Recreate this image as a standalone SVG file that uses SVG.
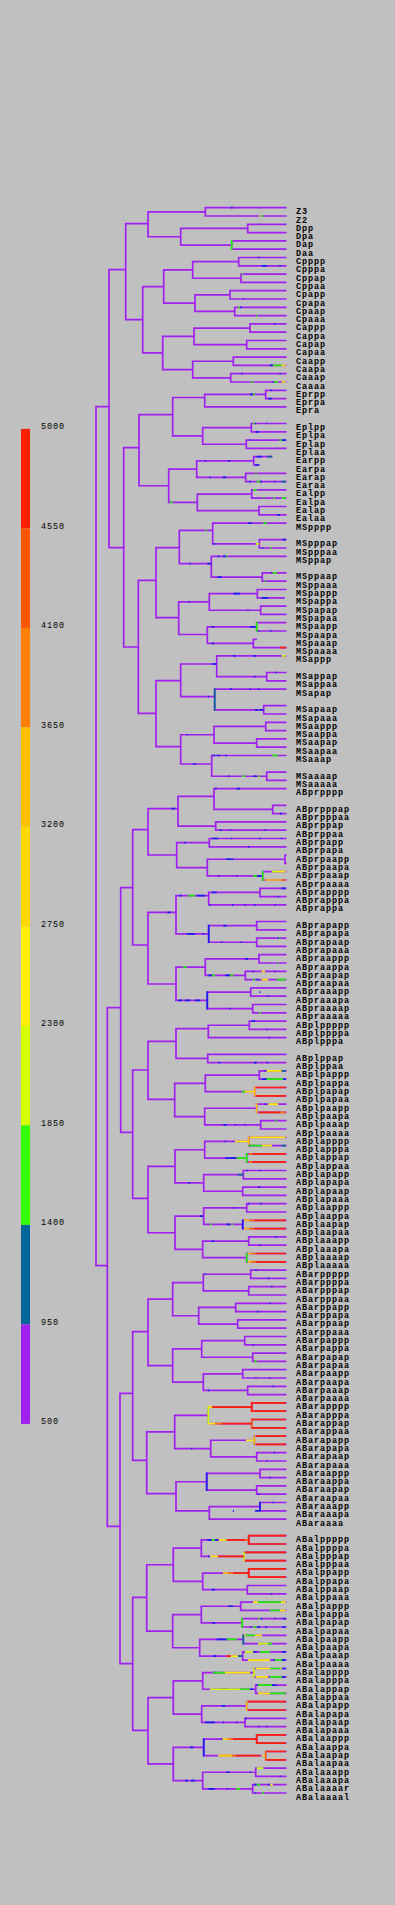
<svg xmlns="http://www.w3.org/2000/svg" width="395" height="1905" viewBox="0 0 395 1905">
<style>
.t{fill:none;stroke:#a020f0;stroke-width:1.7;stroke-linecap:square}
.ov{fill:none;stroke-width:1.7;stroke-linecap:butt}
.r{stroke:#ff2000}.o{stroke:#ff7000}.am{stroke:#ffc000}.y{stroke:#ffee00}.yg{stroke:#ccff00}.g{stroke:#22ee00}.b{stroke:#1c1cf0}.tl{stroke:#006699}
.l{font-family:"Liberation Mono",monospace;font-size:8.5px;font-weight:bold;letter-spacing:0.9px;fill:#000}
.k{font-family:"Liberation Mono",monospace;font-size:8.5px;letter-spacing:0.9px;fill:#000}
</style>
<rect width="395" height="1905" fill="#c0c0c0"/>
<g id="legend">
<rect x="21" y="428.9" width="9" height="99.5" fill="#ff2000"/>
<rect x="21" y="528.4" width="9" height="99.5" fill="#ff5500"/>
<rect x="21" y="627.9" width="9" height="99.5" fill="#ff8000"/>
<rect x="21" y="727.4" width="9" height="99.5" fill="#ffc000"/>
<rect x="21" y="826.9" width="9" height="99.5" fill="#ffd800"/>
<rect x="21" y="926.4" width="9" height="99.5" fill="#ffee00"/>
<rect x="21" y="1025.9" width="9" height="99.5" fill="#d4ff00"/>
<rect x="21" y="1125.4" width="9" height="99.5" fill="#33ff00"/>
<rect x="21" y="1224.9" width="9" height="99.5" fill="#006699"/>
<rect x="21" y="1324.4" width="9" height="99.5" fill="#a020f0"/>
<text class="k" x="41" y="429">5000</text>
<text class="k" x="41" y="528.5">4550</text>
<text class="k" x="41" y="628">4100</text>
<text class="k" x="41" y="727.5">3650</text>
<text class="k" x="41" y="827">3200</text>
<text class="k" x="41" y="926.5">2750</text>
<text class="k" x="41" y="1026">2300</text>
<text class="k" x="41" y="1125.5">1850</text>
<text class="k" x="41" y="1225">1400</text>
<text class="k" x="41" y="1324.5">950</text>
<text class="k" x="41" y="1424">500</text>
</g>
<g id="connectors">
<path id="e-top" class="t" d="M96 406.7V1265.7M96 406.7H109M96 1265.7H107.3
M109 269.7V547.7M109 269.7H125.7M109 547.7H123.7
M125.7 223.7V319.7M125.7 223.7H148M125.7 319.7H142.7
M148 211.85V236.75M148 211.85H205.3M148 236.75H180.7
M205.3 207.7V216M205.3 207.7H285.7M205.3 216H285.7
M180.7 228.45V245.05M180.7 228.45H247.7M180.7 245.05H231.7
M247.7 224.3V232.6M247.7 224.3H285.7M247.7 232.6H285.7
M231.7 240.9V249.2M231.7 240.9H285.7M231.7 249.2H285.7
M142.7 286.55V352.95M142.7 286.55H163.7M142.7 352.95H162.7
M163.7 269.95V303.15M163.7 269.95H192.7M163.7 303.15H195
M192.7 261.65V278.25M192.7 261.65H238.7M192.7 278.25H241
M238.7 257.5V265.8M238.7 257.5H285.7M238.7 265.8H285.7
M241 274.1V282.4M241 274.1H285.7M241 282.4H285.7
M195 294.85V311.45M195 294.85H230M195 311.45H234.7
M230 290.7V299M230 290.7H285.7M230 299H285.7
M234.7 307.3V315.6M234.7 307.3H285.7M234.7 315.6H285.7
M162.7 336.35V369.55M162.7 336.35H194M162.7 369.55H192.7
M194 328.05V344.65M194 328.05H250M194 344.65H246.7
M250 323.9V332.2M250 323.9H285.7M250 332.2H285.7
M246.7 340.5V348.8M246.7 340.5H285.7M246.7 348.8H285.7
M192.7 361.25V377.85M192.7 361.25H233.3M192.7 377.85H230.7
M233.3 357.1V365.4M233.3 357.1H285.7M233.3 365.4H285.7
M230.7 373.7V382M230.7 373.7H285.7M230.7 382H285.7"/>
<path id="e-E" class="t" d="M123.7 447.7V647M123.7 447.7H139M123.7 647H138.3
M139 414.7V485.75M139 414.7H172.7M139 485.75H168.7
M172.7 397.5V435.95M172.7 397.5H204.7M172.7 435.95H202.7
M204.7 394.45V406.9M204.7 394.45H265.7M204.7 406.9H285.7
M265.7 390.3V398.6M265.7 390.3H285.7M265.7 398.6H285.7
M202.7 427.65V444.25M202.7 427.65H251.3M202.7 444.25H246.3
M251.3 423.5V431.8M251.3 423.5H285.7M251.3 431.8H285.7
M246.3 440.1V448.4M246.3 440.1H285.7M246.3 448.4H285.7
M168.7 469.15V502.35M168.7 469.15H196.7M168.7 502.35H197.3
M196.7 460.85V477.45M196.7 460.85H253.7M196.7 477.45H245.7
M253.7 456.7V465M253.7 456.7H271.7M253.7 465H259
M245.7 473.3V481.6M245.7 473.3H285.7M245.7 481.6H285.7
M197.3 494.05V510.65M197.3 494.05H251.7M197.3 510.65H259
M251.7 489.9V498.2M251.7 489.9H285.7M251.7 498.2H285.7
M259 506.5V514.8M259 506.5H285.7M259 514.8H285.7"/>
<path id="e-MS" class="t" d="M138.3 580.3V713.3M138.3 580.3H156M138.3 713.3H156
M156 547.7V617.7M156 547.7H179.3M156 617.7H178.7
M179.3 530.3V563.7M179.3 530.3H212.7M179.3 563.7H211.3
M212.7 523.1V543.85M212.7 523.1H285.7M212.7 543.85H259.3
M259.3 539.7V548M259.3 539.7H285.7M259.3 548H285.7
M211.3 556.3V577.05M211.3 556.3H285.7M211.3 577.05H262.3
M262.3 572.9V581.2M262.3 572.9H285.7M262.3 581.2H285.7
M178.7 601.95V634.5M178.7 601.95H209.3M178.7 634.5H207.3
M209.3 593.65V610.25M209.3 593.65H257.3M209.3 610.25H260.7
M257.3 589.5V597.8M257.3 589.5H285.7M257.3 597.8H284
M260.7 606.1V614.4M260.7 606.1H285.7M260.7 614.4H285.7
M207.3 626.85V643.45M207.3 626.85H256.7M207.3 643.45H253.3
M256.7 622.7V631M256.7 622.7H285.7M256.7 631H285.7
M253.3 639.3V647.6M253.3 639.3H256M253.3 647.6H285.7
M156 680.7V746.7M156 680.7H180.7M156 746.7H180.7
M180.7 664V696.7M180.7 664H216.7M180.7 696.7H214.7
M216.7 655.9V676.65M216.7 655.9H285.7M216.7 676.65H266.7
M266.7 672.5V680.8M266.7 672.5H285.7M266.7 680.8H285.7
M214.7 689.1V709.85M214.7 689.1H285.7M214.7 709.85H263.7
M263.7 705.7V714M263.7 705.7H285.7M263.7 714H285.7
M180.7 734.75V764M180.7 734.75H214M180.7 764H211.7
M214 726.45V743.05M214 726.45H265.7M214 743.05H256.7
M265.7 722.3V730.6M265.7 722.3H285.7M265.7 730.6H285.7
M256.7 738.9V747.2M256.7 738.9H285.7M256.7 747.2H285.7
M211.7 755.5V776.25M211.7 755.5H285.7M211.7 776.25H266.7
M266.7 772.1V780.4M266.7 772.1H285.7M266.7 780.4H285.7"/>
<path id="e-ABp" class="t" d="M107.3 1007.7V1526.3M107.3 1007.7H120.7M107.3 1526.3H120
M120.7 887.7V1132.3M120.7 887.7H132.7M120.7 1132.3H132.7
M132.7 829.7V945M132.7 829.7H148M132.7 945H148
M148 808.7V855M148 808.7H178M148 855H176.7
M178 796.3V826.05M178 796.3H214M178 826.05H215.7
M214 788.7V809.45M214 788.7H285.7M214 809.45H272.7
M272.7 805.3V813.6M272.7 805.3H285.7M272.7 813.6H285.7
M215.7 821.9V830.2M215.7 821.9H285.7M215.7 830.2H285.7
M176.7 842.65V867.55M176.7 842.65H209.3M176.7 867.55H207.3
M209.3 838.5V846.8M209.3 838.5H285.7M209.3 846.8H285.7
M207.3 859.25V875.85M207.3 859.25H285M207.3 875.85H262.7
M285 855.1V863.4M285 855.1H285.7M285 863.4H285.7
M262.7 871.7V880M262.7 871.7H285.7M262.7 880H285.7
M148 912.3V984M148 912.3H176M148 984H176
M176 895.7V933.95M176 895.7H208.7M176 933.95H208.7
M208.7 892.45V904.9M208.7 892.45H260M208.7 904.9H285.7
M260 888.3V896.6M260 888.3H285.7M260 896.6H285.7
M208.7 925.65V942.25M208.7 925.65H256.7M208.7 942.25H256.7
M256.7 921.5V929.8M256.7 921.5H285.7M256.7 929.8H285.7
M256.7 938.1V946.4M256.7 938.1H285.7M256.7 946.4H285.7
M176 967.15V1000.35M176 967.15H205.3M176 1000.35H207.3
M205.3 958.85V975.45M205.3 958.85H259M205.3 975.45H245.3
M259 954.7V963M259 954.7H285.7M259 963H285.7
M245.3 971.3V979.6M245.3 971.3H285.7M245.3 979.6H285.7
M207.3 992.05V1008.65M207.3 992.05H250.7M207.3 1008.65H252.7
M250.7 987.9V996.2M250.7 987.9H285.7M250.7 996.2H285.7
M252.7 1004.5V1012.8M252.7 1004.5H285.7M252.7 1012.8H285.7
M132.7 1070V1198.3M132.7 1070H148M132.7 1198.3H148
M148 1041.3V1099.3M148 1041.3H176M148 1099.3H174.7
M176 1028.7V1058.45M176 1028.7H208.3M176 1058.45H207.7
M208.3 1025.25V1037.7M208.3 1025.25H249.3M208.3 1037.7H285.7
M249.3 1021.1V1029.4M249.3 1021.1H285.7M249.3 1029.4H285.7
M207.7 1054.3V1062.6M207.7 1054.3H285.7M207.7 1062.6H285.7
M174.7 1083.35V1116.55M174.7 1083.35H205.3M174.7 1116.55H204.7
M205.3 1075.05V1091.65M205.3 1075.05H259.3M205.3 1091.65H254.7
M259.3 1070.9V1079.2M259.3 1070.9H285.7M259.3 1079.2H285.7
M254.7 1087.5V1095.8M254.7 1087.5H285.7M254.7 1095.8H285.7
M204.7 1108.25V1124.85M204.7 1108.25H256.7M204.7 1124.85H260.7
M256.7 1104.1V1112.4M256.7 1104.1H285.7M256.7 1112.4H285.7
M260.7 1120.7V1129M260.7 1120.7H285.7M260.7 1129H285.7
M148 1166.35V1232.75M148 1166.35H175M148 1232.75H175
M175 1149.75V1182.95M175 1149.75H204.7M175 1182.95H203.7
M204.7 1141.45V1158.05M204.7 1141.45H248.7M204.7 1158.05H246.7
M248.7 1137.3V1145.6M248.7 1137.3H285.7M248.7 1145.6H285.7
M246.7 1153.9V1162.2M246.7 1153.9H285.7M246.7 1162.2H285.7
M203.7 1174.65V1191.25M203.7 1174.65H243.3M203.7 1191.25H242.7
M243.3 1170.5V1178.8M243.3 1170.5H285.7M243.3 1178.8H285.7
M242.7 1187.1V1195.4M242.7 1187.1H285.7M242.7 1195.4H285.7
M175 1216.15V1249.35M175 1216.15H203.7M175 1249.35H202.7
M203.7 1207.85V1224.45M203.7 1207.85H246.7M203.7 1224.45H242.7
M246.7 1203.7V1212M246.7 1203.7H285.7M246.7 1212H285.7
M242.7 1220.3V1228.6M242.7 1220.3H285.7M242.7 1228.6H285.7
M202.7 1241.05V1257.65M202.7 1241.05H248.7M202.7 1257.65H246.7
M248.7 1236.9V1245.2M248.7 1236.9H285.7M248.7 1245.2H285.7
M246.7 1253.5V1261.8M246.7 1253.5H285.7M246.7 1261.8H285.7"/>
<path id="e-ABa" class="t" d="M120 1393.3V1663.7M120 1393.3H132.7M120 1663.7H132.7
M132.7 1331.7V1460.3M132.7 1331.7H148M132.7 1460.3H146.7
M148 1299.15V1365.55M148 1299.15H172.7M148 1365.55H172.7
M172.7 1282.55V1315.75M172.7 1282.55H203.3M172.7 1315.75H198.7
M203.3 1274.25V1290.85M203.3 1274.25H250.7M203.3 1290.85H248.7
M250.7 1270.1V1278.4M250.7 1270.1H285.7M250.7 1278.4H285.7
M248.7 1286.7V1295M248.7 1286.7H285.7M248.7 1295H285.7
M198.7 1307.45V1324.05M198.7 1307.45H235.7M198.7 1324.05H237.7
M235.7 1303.3V1311.6M235.7 1303.3H285.7M235.7 1311.6H285.7
M237.7 1319.9V1328.2M237.7 1319.9H285.7M237.7 1328.2H285.7
M172.7 1348.95V1382.15M172.7 1348.95H201.7M172.7 1382.15H203.3
M201.7 1340.65V1357.25M201.7 1340.65H244.7M201.7 1357.25H252.7
M244.7 1336.5V1344.8M244.7 1336.5H285.7M244.7 1344.8H285.7
M252.7 1353.1V1361.4M252.7 1353.1H285.7M252.7 1361.4H285.7
M203.3 1373.85V1390.45M203.3 1373.85H242.7M203.3 1390.45H247.7
M242.7 1369.7V1378M242.7 1369.7H285.7M242.7 1378H285.7
M247.7 1386.3V1394.6M247.7 1386.3H285.7M247.7 1394.6H285.7
M146.7 1431.95V1493.7M146.7 1431.95H174.7M146.7 1493.7H176
M174.7 1415.35V1448.55M174.7 1415.35H208.3M174.7 1448.55H210.7
M208.3 1407.05V1423.65M208.3 1407.05H251.7M208.3 1423.65H251.7
M251.7 1402.9V1411.2M251.7 1402.9H285.7M251.7 1411.2H285.7
M251.7 1419.5V1427.8M251.7 1419.5H285.7M251.7 1427.8H285.7
M210.7 1440.25V1456.85M210.7 1440.25H254.3M210.7 1456.85H256.7
M254.3 1436.1V1444.4M254.3 1436.1H285.7M254.3 1444.4H285.7
M256.7 1452.7V1461M256.7 1452.7H285.7M256.7 1461H285.7
M176 1481.75V1510.8M176 1481.75H206.7M176 1510.8H209.3
M206.7 1473.45V1490.05M206.7 1473.45H260M206.7 1490.05H256.7
M260 1469.3V1477.6M260 1469.3H285.7M260 1477.6H285.7
M256.7 1485.9V1494.2M256.7 1485.9H285.7M256.7 1494.2H285.7
M209.3 1506.65V1519.1M209.3 1506.65H260M209.3 1519.1H285.7
M260 1502.5V1510.8M260 1502.5H285.7M260 1510.8H285.7
M132.7 1597.3V1730.3M132.7 1597.3H146.7M132.7 1730.3H148
M146.7 1564.75V1631.15M146.7 1564.75H173.3M146.7 1631.15H172.7
M173.3 1548.15V1581.35M173.3 1548.15H201.3M173.3 1581.35H202.7
M201.3 1539.85V1556.45M201.3 1539.85H248.7M201.3 1556.45H244
M248.7 1535.7V1544M248.7 1535.7H285.7M248.7 1544H285.7
M244 1552.3V1560.6M244 1552.3H285.7M244 1560.6H285.7
M202.7 1573.05V1589.65M202.7 1573.05H248.7M202.7 1589.65H247.3
M248.7 1568.9V1577.2M248.7 1568.9H285.7M248.7 1577.2H285.7
M247.3 1585.5V1593.8M247.3 1585.5H285.7M247.3 1593.8H285.7
M172.7 1614.55V1647.75M172.7 1614.55H201.3M172.7 1647.75H199.7
M201.3 1606.25V1622.85M201.3 1606.25H240.7M201.3 1622.85H242
M240.7 1602.1V1610.4M240.7 1602.1H285.7M240.7 1610.4H285.7
M242 1618.7V1627M242 1618.7H285.7M242 1627H285.7
M199.7 1639.45V1656.05M199.7 1639.45H243.3M199.7 1656.05H242.7
M243.3 1635.3V1643.6M243.3 1635.3H285.7M243.3 1643.6H285.7
M242.7 1651.9V1660.2M242.7 1651.9H285.7M242.7 1660.2H285.7
M148 1697.55V1763.95M148 1697.55H173.3M148 1763.95H173.3
M173.3 1680.95V1714.15M173.3 1680.95H202.7M173.3 1714.15H201.7
M202.7 1672.65V1689.25M202.7 1672.65H254M202.7 1689.25H255.7
M254 1668.5V1676.8M254 1668.5H285.7M254 1676.8H285.7
M255.7 1685.1V1693.4M255.7 1685.1H285.7M255.7 1693.4H285.7
M201.7 1705.85V1722.45M201.7 1705.85H246.7M201.7 1722.45H245
M246.7 1701.7V1710M246.7 1701.7H285.7M246.7 1710H285.7
M245 1718.3V1726.6M245 1718.3H285.7M245 1726.6H285.7
M173.3 1747.35V1780.55M173.3 1747.35H203.7M173.3 1780.55H202.7
M203.7 1739.05V1755.65M203.7 1739.05H256.7M203.7 1755.65H265.7
M256.7 1734.9V1743.2M256.7 1734.9H285.7M256.7 1743.2H285.7
M265.7 1751.5V1759.8M265.7 1751.5H285.7M265.7 1759.8H285.7
M202.7 1772.25V1788.85M202.7 1772.25H255.7M202.7 1788.85H252.7
M255.7 1768.1V1776.4M255.7 1768.1H285.7M255.7 1776.4H285.7
M252.7 1784.7V1793M252.7 1784.7H285.7M252.7 1793H285.7"/>
<g id="expression">
<path class="ov b" d="M231 207.7H232.7M258 257.5H259.5M261.7 265.8H266.7M279.3 265.8H280.7M242.8 299H244M240 307.3H241.7M274.3 323.9H275.7M270 365.4H272.7M241.2 373.7H242.4M279.5 373.7H280.7M272.7 382H274M250 394.45H253M270.5 390.3H271.7M268.3 398.6H271.7M255 423.5H256M266.2 423.5H267.2M255.7 431.8H259M249.5 440.1H250.5M281.7 440.1H285.7M204.7 460.85H206M228.3 460.85H230M256.7 456.7H261.7M255 465H259M209.7 477.45H211M222.7 477.45H226M249 481.6H250.5M260 481.6H262M274.5 481.6H275.7M277.3 514.8H280M248.3 523.1H251.7M213.7 543.85H215M282.7 539.7H285.7M261.7 548H263.3M189.5 563.7H190.7M207.3 563.7H211.3M217.7 556.3H219.3M223 556.3H226M217.3 577.05H221.7M271.2 572.9H272.4M188.8 601.95H190M233.3 593.65H240M261.7 597.8H268.3M247.3 610.25H248.5M211.7 626.85H214M250 626.85H256.7M258 631H259.3M270 631H271.3M211.7 643.45H214M233.3 655.9H235.7M253.3 655.9H255.7M211.7 664H216.7M254.5 676.65H255.7M275.5 672.5H277M230 689.1H231.7M249.5 689.1H250.7M258 689.1H259.3M207.7 696.7H209M255 709.85H258M259.5 709.85H263.3M186.7 734.75H188M193.3 764H196M212.7 755.5H215M217 755.5H220M225 755.5H226.7M228.3 776.25H230M253.3 776.25H256.7M215 788.7H216.7M236.7 788.7H240M171.7 808.7H175M280 813.6H281.7M220 830.2H221.7M229.5 830.2H230.7M264.5 830.2H265.7M184.3 842.65H186M211.7 838.5H218.3M231 838.5H232.3M259.5 838.5H260.7M281 838.5H282.3M248 846.8H249.2M226 859.25H233.3M218 875.85H219.2M236.2 875.85H237.4M256.7 875.85H262.7M167.3 912.3H170.7M179.3 895.7H181.7M196.7 895.7H205M281.7 888.3H285.7M211.7 892.45H216.7M277.7 896.6H279M209.7 904.9H211M232 904.9H233.3M244.5 904.9H245.7M254.5 904.9H255.7M274.5 904.9H275.7M186.7 933.95H195M202.7 933.95H204M223.3 925.65H226.7M221.3 942.25H222.5M240.5 942.25H241.7M278 938.1H279.2M245 958.85H248.3M208.3 975.45H212M225 975.45H230M252.7 971.3H254M274.5 971.3H275.7M256.7 979.6H258.3M178.3 1000.35H182M185 1000.35H190M195 1000.35H200M259.5 992.05H260.7M267.7 996.2H269M229.5 1008.65H230.7M251.7 1021.1H255M266.3 1029.4H267.5M268.7 1037.7H270M218.3 1062.6H220M254 1062.6H256.7M266.7 1062.6H268M264.5 1070.9H265.7M261.7 1079.2H266.7M283 1079.2H285.7M223.3 1124.85H226.7M234.5 1124.85H235.7M244.5 1124.85H245.7M264.5 1104.1H265.7M224.5 1141.45H225.7M238.8 1141.45H240M225 1158.05H236.7M246.7 1170.5H248M259.3 1170.5H260.5M188.3 1182.95H190M258.3 1187.1H260M200 1216.15H203M233.5 1207.85H234.7M248 1203.7H249.2M260 1203.7H261.7M226.7 1224.45H230M211.7 1241.05H214M275.5 1236.9H276.7M259.5 1245.2H260.7M255.5 1270.1H256.7M204.5 1274.25H205.7M268 1278.4H269.2M271.2 1286.7H272.4M269.5 1303.3H270.7M257 1311.6H258.5M252.8 1344.8H254M255.3 1378H256.5M269 1378H270.2M208 1390.45H209.3M272.7 1386.3H274M191.2 1448.55H192.4M273.8 1452.7H275M266.2 1461H267.4M269.5 1477.6H270.7M258 1494.2H259.2M232.8 1510.8H234M255 1510.8H260M272.8 1502.5H274M207.3 1539.85H211.7M215 1539.85H218.3M208 1556.45H209.5M211.7 1589.65H215M271.2 1593.8H272.4M228.3 1606.25H233.3M212.3 1622.85H215M261.2 1618.7H262.4M274.5 1618.7H275.7M283 1618.7H285.7M250 1627H251.2M256.7 1627H260M265 1627H267M282 1627H285.7M216.7 1639.45H226.7M213.3 1656.05H216.7M253.3 1651.9H256.7M282 1651.9H285.7M273 1660.2H274.2M282 1660.2H285.7M213.3 1672.65H216.7M281.7 1668.5H285.7M281.7 1676.8H285.7M221.7 1689.25H226.7M250 1689.25H253.3M256.7 1685.1H260M271.7 1685.1H276.7M221.7 1705.85H225M205 1722.45H215M223 1722.45H224.2M236.2 1722.45H237.4M245 1718.3H246.7M258 1726.6H259.2M266.2 1726.6H267.4M190 1747.35H193.3M221.7 1739.05H223.3M218 1755.65H219.5M185 1780.55H188M191 1780.55H195M226.7 1772.25H230M249.5 1772.25H250.7M279.5 1776.4H280.7M208.3 1788.85H215M226.8 1788.85H228M254 1784.7H256.7M268 1784.7H271M255 1793H256.2M208.7 924.8V943.1M207.3 991.2V1009.5M206.7 1472.6V1490.9M260 1501.7V1511.6M203.7 1738.2V1756.5M242.7 1219.5V1229.4"/>
<path class="ov g" d="M231.7 240.1V250M261 216H263.3M256.7 621.9V631.8M241.5 274.1H242.7M238.3 307.3H240M256 315.6H257.3M273 365.4H281.7M251 382H253.3M274 382H278M253 394.45H255M253.3 423.5H255M279.3 440.1H281.7M255.3 473.3H256.7M256.7 481.6H260M170 502.35H172.7M253.3 489.9H256.7M263.3 498.2H264.5M273.3 498.2H275M281.7 498.2H285.7M263.3 523.1H266.7M205 530.3H206.7M270 548H271.7M226 556.3H227.5M264.5 581.2H265.7M272.7 572.9H276.7M272 755.5H278M241.7 776.25H245M258.3 776.25H260M262.7 870.9V880.8M253.3 875.85H256.7M188.3 895.7H195M279.2 938.1H280.4M183.3 967.15H186.7M277 963H278.3M212 975.45H215M230 975.45H233.3M252.7 979.6H255M276.7 979.6H285.7M259.3 1012.8H261M266.7 1079.2H283M275 1120.7H276.5M236.7 1158.05H246.7M246.7 1153.1V1163M210 1224.45H211.7M231.5 1224.45H233M246.7 1252.7V1262.6M254 1361.4H256.7M211.7 1539.85H215M242 1617.9V1627.8M241.7 1091.65H245M250 1145.6H262M258 1602.1H281M270 1610.4H280M246 1635.3H255M275 1660.2H282M226.7 1639.45H236.7M270 1668.5H280M270 1676.8H281.7M213 1672.65H225M240 1689.25H250M258 1685.1H271.7M270 1693.4H285.7M253 1627H256.7M268 1643.6H272M260 1651.9H270M236 1788.85H240M256.7 1784.7H260M262 1793H264M258.3 1618.7H260"/>
<path class="ov yg" d="M259.5 216H261M255.7 543.85H259.3M208.3 1406.2V1424.5M244 1551.5V1561.4M254 1667.7V1677.6M256.7 1768.1H263.3M271.7 871.7H277M258 1643.6H268M280 1668.5H281.7M210 1689.25H240M245 1651.9H253M243.3 1635.3H246M281.7 655.9H285.7"/>
<path class="ov y" d="M281.7 365.4H285.7M281.7 382H285.7M235 1141.45H248.7M250 1137.3H285.7M208.3 1407.05H212M208.3 1423.65H215M246 1440.25H254.3M210 1556.45H218M218 1755.65H232M261.7 1755.65H265.7M219 1539.85H226.7M277 871.7H285.7M261.7 971.3H265M261.7 979.6H268.3M266.7 1070.9H281.7M245 1091.65H254.7M262 1145.6H272M253 1602.1H258M281 1602.1H285.7M280 1610.4H285.7M255 1635.3H262M248 1660.2H270M256 1668.5H270M256 1676.8H268M225 1672.65H250M258 1693.4H270M268.3 1104.1H278.3M270 1784.7H272.7M230.7 1656.05H238M222.5 1739.05H226"/>
<path class="ov am" d="M265 880H281.7M254.7 1086.7V1096.6M256.7 1103.3V1113.2M248.7 1136.5V1146.4M244 1220.3H249M244 1228.6H249M248 1253.5H251M248 1261.8H251M254.3 1435.3V1445.2M246.7 1700.9V1710.8M226 1739.05H229M223 1573.05H228M220 1755.65H232"/>
<path class="ov o" d="M280 1112.4H285.7M249 1153.9H252M249 1162.2H252M249 1220.3H254M249 1228.6H254M251 1253.5H256M251 1261.8H256M251.7 1418.7V1428.6M215 1423.65H222M265.7 1750.7V1760.6M281.7 880H285.7M229 1739.05H233M232 1755.65H236M228 1573.05H233M245 1539.85H248.7"/>
<path class="ov r" d="M280 647.6H285.7M255.7 1087.5H285.7M255.7 1095.8H285.7M259 1112.4H280M252 1153.9H285.7M252 1162.2H285.7M254 1220.3H285.7M254 1228.6H285.7M256 1253.5H285.7M256 1261.8H285.7M212 1407.05H251.7M251.7 1402.1V1412M251.7 1402.9H285.7M251.7 1411.2H285.7M222 1423.65H251.7M251.7 1419.5H285.7M251.7 1427.8H285.7M256 1436.1H285.7M256 1444.4H285.7M226.7 1539.85H245M248.7 1534.9V1544.8M248.7 1535.7H285.7M248.7 1544H285.7M218 1556.45H244M245 1552.3H285.7M245 1560.6H285.7M233 1573.05H248.7M248.7 1568.1V1578M248.7 1568.9H285.7M248.7 1577.2H285.7M248 1701.7H285.7M248 1710H285.7M233 1739.05H256.7M256.7 1734.1V1744M256.7 1734.9H285.7M256.7 1743.2H285.7M236 1755.65H260M266.5 1751.5H285.7M266.5 1759.8H285.7M226 1656.05H230.7"/>
<path class="ov tl" d="M214.7 688.3V710.7M267.3 456.7H271.7M281.7 481.6H285.7M281.7 1070.9H285.7M243.3 1634.5V1644.4M281.7 1145.6H285.7M248.7 1145.6H250M238.3 1174.65H243.3M238 1656.05H242.7"/>
</g>
</g>
<g id="labels">
<text id="n-Z3" class="l" x="296" y="214.2">Z3</text>
<text id="n-Z2" class="l" x="296" y="222.5">Z2</text>
<text id="n-Dpp" class="l" x="296" y="230.8">Dpp</text>
<text id="n-Dpa" class="l" x="296" y="239.1">Dpa</text>
<text id="n-Dap" class="l" x="296" y="247.4">Dap</text>
<text id="n-Daa" class="l" x="296" y="255.7">Daa</text>
<text id="n-Cpppp" class="l" x="296" y="264">Cpppp</text>
<text id="n-Cpppa" class="l" x="296" y="272.3">Cpppa</text>
<text id="n-Cppap" class="l" x="296" y="280.6">Cppap</text>
<text id="n-Cppaa" class="l" x="296" y="288.9">Cppaa</text>
<text id="n-Cpapp" class="l" x="296" y="297.2">Cpapp</text>
<text id="n-Cpapa" class="l" x="296" y="305.5">Cpapa</text>
<text id="n-Cpaap" class="l" x="296" y="313.8">Cpaap</text>
<text id="n-Cpaaa" class="l" x="296" y="322.1">Cpaaa</text>
<text id="n-Cappp" class="l" x="296" y="330.4">Cappp</text>
<text id="n-Cappa" class="l" x="296" y="338.7">Cappa</text>
<text id="n-Capap" class="l" x="296" y="347">Capap</text>
<text id="n-Capaa" class="l" x="296" y="355.3">Capaa</text>
<text id="n-Caapp" class="l" x="296" y="363.6">Caapp</text>
<text id="n-Caapa" class="l" x="296" y="371.9">Caapa</text>
<text id="n-Caaap" class="l" x="296" y="380.2">Caaap</text>
<text id="n-Caaaa" class="l" x="296" y="388.5">Caaaa</text>
<text id="n-Eprpp" class="l" x="296" y="396.8">Eprpp</text>
<text id="n-Eprpa" class="l" x="296" y="405.1">Eprpa</text>
<text id="n-Epra" class="l" x="296" y="413.4">Epra</text>
<text id="n-Eplpp" class="l" x="296" y="430">Eplpp</text>
<text id="n-Eplpa" class="l" x="296" y="438.3">Eplpa</text>
<text id="n-Eplap" class="l" x="296" y="446.6">Eplap</text>
<text id="n-Eplaa" class="l" x="296" y="454.9">Eplaa</text>
<text id="n-Earpp" class="l" x="296" y="463.2">Earpp</text>
<text id="n-Earpa" class="l" x="296" y="471.5">Earpa</text>
<text id="n-Earap" class="l" x="296" y="479.8">Earap</text>
<text id="n-Earaa" class="l" x="296" y="488.1">Earaa</text>
<text id="n-Ealpp" class="l" x="296" y="496.4">Ealpp</text>
<text id="n-Ealpa" class="l" x="296" y="504.7">Ealpa</text>
<text id="n-Ealap" class="l" x="296" y="513">Ealap</text>
<text id="n-Ealaa" class="l" x="296" y="521.3">Ealaa</text>
<text id="n-MSpppp" class="l" x="296" y="529.6">MSpppp</text>
<text id="n-MSpppap" class="l" x="296" y="546.2">MSpppap</text>
<text id="n-MSpppaa" class="l" x="296" y="554.5">MSpppaa</text>
<text id="n-MSppap" class="l" x="296" y="562.8">MSppap</text>
<text id="n-MSppaap" class="l" x="296" y="579.4">MSppaap</text>
<text id="n-MSppaaa" class="l" x="296" y="587.7">MSppaaa</text>
<text id="n-MSpappp" class="l" x="296" y="596">MSpappp</text>
<text id="n-MSpappa" class="l" x="296" y="604.3">MSpappa</text>
<text id="n-MSpapap" class="l" x="296" y="612.6">MSpapap</text>
<text id="n-MSpapaa" class="l" x="296" y="620.9">MSpapaa</text>
<text id="n-MSpaapp" class="l" x="296" y="629.2">MSpaapp</text>
<text id="n-MSpaapa" class="l" x="296" y="637.5">MSpaapa</text>
<text id="n-MSpaaap" class="l" x="296" y="645.8">MSpaaap</text>
<text id="n-MSpaaaa" class="l" x="296" y="654.1">MSpaaaa</text>
<text id="n-MSappp" class="l" x="296" y="662.4">MSappp</text>
<text id="n-MSappap" class="l" x="296" y="679">MSappap</text>
<text id="n-MSappaa" class="l" x="296" y="687.3">MSappaa</text>
<text id="n-MSapap" class="l" x="296" y="695.6">MSapap</text>
<text id="n-MSapaap" class="l" x="296" y="712.2">MSapaap</text>
<text id="n-MSapaaa" class="l" x="296" y="720.5">MSapaaa</text>
<text id="n-MSaappp" class="l" x="296" y="728.8">MSaappp</text>
<text id="n-MSaappa" class="l" x="296" y="737.1">MSaappa</text>
<text id="n-MSaapap" class="l" x="296" y="745.4">MSaapap</text>
<text id="n-MSaapaa" class="l" x="296" y="753.7">MSaapaa</text>
<text id="n-MSaaap" class="l" x="296" y="762">MSaaap</text>
<text id="n-MSaaaap" class="l" x="296" y="778.6">MSaaaap</text>
<text id="n-MSaaaaa" class="l" x="296" y="786.9">MSaaaaa</text>
<text id="n-ABprpppp" class="l" x="296" y="795.2">ABprpppp</text>
<text id="n-ABprpppap" class="l" x="296" y="811.8">ABprpppap</text>
<text id="n-ABprpppaa" class="l" x="296" y="820.1">ABprpppaa</text>
<text id="n-ABprppap" class="l" x="296" y="828.4">ABprppap</text>
<text id="n-ABprppaa" class="l" x="296" y="836.7">ABprppaa</text>
<text id="n-ABprpapp" class="l" x="296" y="845">ABprpapp</text>
<text id="n-ABprpapa" class="l" x="296" y="853.3">ABprpapa</text>
<text id="n-ABprpaapp" class="l" x="296" y="861.6">ABprpaapp</text>
<text id="n-ABprpaapa" class="l" x="296" y="869.9">ABprpaapa</text>
<text id="n-ABprpaaap" class="l" x="296" y="878.2">ABprpaaap</text>
<text id="n-ABprpaaaa" class="l" x="296" y="886.5">ABprpaaaa</text>
<text id="n-ABprapppp" class="l" x="296" y="894.8">ABprapppp</text>
<text id="n-ABprapppa" class="l" x="296" y="903.1">ABprapppa</text>
<text id="n-ABprappa" class="l" x="296" y="911.4">ABprappa</text>
<text id="n-ABprapapp" class="l" x="296" y="928">ABprapapp</text>
<text id="n-ABprapapa" class="l" x="296" y="936.3">ABprapapa</text>
<text id="n-ABprapaap" class="l" x="296" y="944.6">ABprapaap</text>
<text id="n-ABprapaaa" class="l" x="296" y="952.9">ABprapaaa</text>
<text id="n-ABpraappp" class="l" x="296" y="961.2">ABpraappp</text>
<text id="n-ABpraappa" class="l" x="296" y="969.5">ABpraappa</text>
<text id="n-ABpraapap" class="l" x="296" y="977.8">ABpraapap</text>
<text id="n-ABpraapaa" class="l" x="296" y="986.1">ABpraapaa</text>
<text id="n-ABpraaapp" class="l" x="296" y="994.4">ABpraaapp</text>
<text id="n-ABpraaapa" class="l" x="296" y="1002.7">ABpraaapa</text>
<text id="n-ABpraaaap" class="l" x="296" y="1011">ABpraaaap</text>
<text id="n-ABpraaaaa" class="l" x="296" y="1019.3">ABpraaaaa</text>
<text id="n-ABplppppp" class="l" x="296" y="1027.6">ABplppppp</text>
<text id="n-ABplppppa" class="l" x="296" y="1035.9">ABplppppa</text>
<text id="n-ABplpppa" class="l" x="296" y="1044.2">ABplpppa</text>
<text id="n-ABplppap" class="l" x="296" y="1060.8">ABplppap</text>
<text id="n-ABplppaa" class="l" x="296" y="1069.1">ABplppaa</text>
<text id="n-ABplpappp" class="l" x="296" y="1077.4">ABplpappp</text>
<text id="n-ABplpappa" class="l" x="296" y="1085.7">ABplpappa</text>
<text id="n-ABplpapap" class="l" x="296" y="1094">ABplpapap</text>
<text id="n-ABplpapaa" class="l" x="296" y="1102.3">ABplpapaa</text>
<text id="n-ABplpaapp" class="l" x="296" y="1110.6">ABplpaapp</text>
<text id="n-ABplpaapa" class="l" x="296" y="1118.9">ABplpaapa</text>
<text id="n-ABplpaaap" class="l" x="296" y="1127.2">ABplpaaap</text>
<text id="n-ABplpaaaa" class="l" x="296" y="1135.5">ABplpaaaa</text>
<text id="n-ABplapppp" class="l" x="296" y="1143.8">ABplapppp</text>
<text id="n-ABplapppa" class="l" x="296" y="1152.1">ABplapppa</text>
<text id="n-ABplappap" class="l" x="296" y="1160.4">ABplappap</text>
<text id="n-ABplappaa" class="l" x="296" y="1168.7">ABplappaa</text>
<text id="n-ABplapapp" class="l" x="296" y="1177">ABplapapp</text>
<text id="n-ABplapapa" class="l" x="296" y="1185.3">ABplapapa</text>
<text id="n-ABplapaap" class="l" x="296" y="1193.6">ABplapaap</text>
<text id="n-ABplapaaa" class="l" x="296" y="1201.9">ABplapaaa</text>
<text id="n-ABplaappp" class="l" x="296" y="1210.2">ABplaappp</text>
<text id="n-ABplaappa" class="l" x="296" y="1218.5">ABplaappa</text>
<text id="n-ABplaapap" class="l" x="296" y="1226.8">ABplaapap</text>
<text id="n-ABplaapaa" class="l" x="296" y="1235.1">ABplaapaa</text>
<text id="n-ABplaaapp" class="l" x="296" y="1243.4">ABplaaapp</text>
<text id="n-ABplaaapa" class="l" x="296" y="1251.7">ABplaaapa</text>
<text id="n-ABplaaaap" class="l" x="296" y="1260">ABplaaaap</text>
<text id="n-ABplaaaaa" class="l" x="296" y="1268.3">ABplaaaaa</text>
<text id="n-ABarppppp" class="l" x="296" y="1276.6">ABarppppp</text>
<text id="n-ABarppppa" class="l" x="296" y="1284.9">ABarppppa</text>
<text id="n-ABarpppap" class="l" x="296" y="1293.2">ABarpppap</text>
<text id="n-ABarpppaa" class="l" x="296" y="1301.5">ABarpppaa</text>
<text id="n-ABarppapp" class="l" x="296" y="1309.8">ABarppapp</text>
<text id="n-ABarppapa" class="l" x="296" y="1318.1">ABarppapa</text>
<text id="n-ABarppaap" class="l" x="296" y="1326.4">ABarppaap</text>
<text id="n-ABarppaaa" class="l" x="296" y="1334.7">ABarppaaa</text>
<text id="n-ABarpappp" class="l" x="296" y="1343">ABarpappp</text>
<text id="n-ABarpappa" class="l" x="296" y="1351.3">ABarpappa</text>
<text id="n-ABarpapap" class="l" x="296" y="1359.6">ABarpapap</text>
<text id="n-ABarpapaa" class="l" x="296" y="1367.9">ABarpapaa</text>
<text id="n-ABarpaapp" class="l" x="296" y="1376.2">ABarpaapp</text>
<text id="n-ABarpaapa" class="l" x="296" y="1384.5">ABarpaapa</text>
<text id="n-ABarpaaap" class="l" x="296" y="1392.8">ABarpaaap</text>
<text id="n-ABarpaaaa" class="l" x="296" y="1401.1">ABarpaaaa</text>
<text id="n-ABarapppp" class="l" x="296" y="1409.4">ABarapppp</text>
<text id="n-ABarapppa" class="l" x="296" y="1417.7">ABarapppa</text>
<text id="n-ABarappap" class="l" x="296" y="1426">ABarappap</text>
<text id="n-ABarappaa" class="l" x="296" y="1434.3">ABarappaa</text>
<text id="n-ABarapapp" class="l" x="296" y="1442.6">ABarapapp</text>
<text id="n-ABarapapa" class="l" x="296" y="1450.9">ABarapapa</text>
<text id="n-ABarapaap" class="l" x="296" y="1459.2">ABarapaap</text>
<text id="n-ABarapaaa" class="l" x="296" y="1467.5">ABarapaaa</text>
<text id="n-ABaraappp" class="l" x="296" y="1475.8">ABaraappp</text>
<text id="n-ABaraappa" class="l" x="296" y="1484.1">ABaraappa</text>
<text id="n-ABaraapap" class="l" x="296" y="1492.4">ABaraapap</text>
<text id="n-ABaraapaa" class="l" x="296" y="1500.7">ABaraapaa</text>
<text id="n-ABaraaapp" class="l" x="296" y="1509">ABaraaapp</text>
<text id="n-ABaraaapa" class="l" x="296" y="1517.3">ABaraaapa</text>
<text id="n-ABaraaaa" class="l" x="296" y="1525.6">ABaraaaa</text>
<text id="n-ABalppppp" class="l" x="296" y="1542.2">ABalppppp</text>
<text id="n-ABalppppa" class="l" x="296" y="1550.5">ABalppppa</text>
<text id="n-ABalpppap" class="l" x="296" y="1558.8">ABalpppap</text>
<text id="n-ABalpppaa" class="l" x="296" y="1567.1">ABalpppaa</text>
<text id="n-ABalppapp" class="l" x="296" y="1575.4">ABalppapp</text>
<text id="n-ABalppapa" class="l" x="296" y="1583.7">ABalppapa</text>
<text id="n-ABalppaap" class="l" x="296" y="1592">ABalppaap</text>
<text id="n-ABalppaaa" class="l" x="296" y="1600.3">ABalppaaa</text>
<text id="n-ABalpappp" class="l" x="296" y="1608.6">ABalpappp</text>
<text id="n-ABalpappa" class="l" x="296" y="1616.9">ABalpappa</text>
<text id="n-ABalpapap" class="l" x="296" y="1625.2">ABalpapap</text>
<text id="n-ABalpapaa" class="l" x="296" y="1633.5">ABalpapaa</text>
<text id="n-ABalpaapp" class="l" x="296" y="1641.8">ABalpaapp</text>
<text id="n-ABalpaapa" class="l" x="296" y="1650.1">ABalpaapa</text>
<text id="n-ABalpaaap" class="l" x="296" y="1658.4">ABalpaaap</text>
<text id="n-ABalpaaaa" class="l" x="296" y="1666.7">ABalpaaaa</text>
<text id="n-ABalapppp" class="l" x="296" y="1675">ABalapppp</text>
<text id="n-ABalapppa" class="l" x="296" y="1683.3">ABalapppa</text>
<text id="n-ABalappap" class="l" x="296" y="1691.6">ABalappap</text>
<text id="n-ABalappaa" class="l" x="296" y="1699.9">ABalappaa</text>
<text id="n-ABalapapp" class="l" x="296" y="1708.2">ABalapapp</text>
<text id="n-ABalapapa" class="l" x="296" y="1716.5">ABalapapa</text>
<text id="n-ABalapaap" class="l" x="296" y="1724.8">ABalapaap</text>
<text id="n-ABalapaaa" class="l" x="296" y="1733.1">ABalapaaa</text>
<text id="n-ABalaappp" class="l" x="296" y="1741.4">ABalaappp</text>
<text id="n-ABalaappa" class="l" x="296" y="1749.7">ABalaappa</text>
<text id="n-ABalaapap" class="l" x="296" y="1758">ABalaapap</text>
<text id="n-ABalaapaa" class="l" x="296" y="1766.3">ABalaapaa</text>
<text id="n-ABalaaapp" class="l" x="296" y="1774.6">ABalaaapp</text>
<text id="n-ABalaaapa" class="l" x="296" y="1782.9">ABalaaapa</text>
<text id="n-ABalaaaar" class="l" x="296" y="1791.2">ABalaaaar</text>
<text id="n-ABalaaaal" class="l" x="296" y="1799.5">ABalaaaal</text>
</g>
</svg>
